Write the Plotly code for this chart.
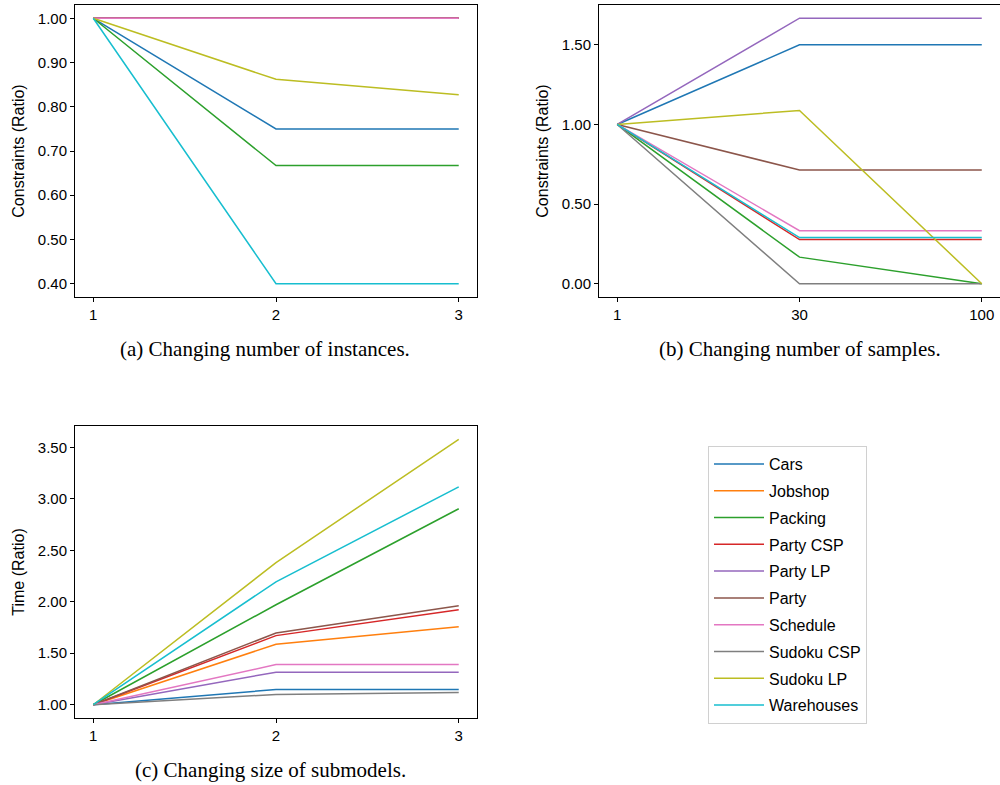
import plotly.graph_objects as go

names = ["Cars", "Jobshop", "Packing", "Party CSP", "Party LP", "Party",
         "Schedule", "Sudoku CSP", "Sudoku LP", "Warehouses"]
colors = ["#1f77b4", "#ff7f0e", "#2ca02c", "#d62728", "#9467bd", "#8c564b",
          "#e377c2", "#7f7f7f", "#bcbd22", "#17becf"]

# (a) Changing number of instances
a_x = [1, 2, 3]
a_vals = {
    "Cars": [1.0, 0.75, 0.75],
    "Jobshop": [1.0, 1.0, 1.0],
    "Packing": [1.0, 0.667, 0.667],
    "Party CSP": [1.0, 1.0, 1.0],
    "Party LP": [1.0, 1.0, 1.0],
    "Party": [1.0, 1.0, 1.0],
    "Schedule": [1.0, 1.0, 1.0],
    "Sudoku CSP": None,
    "Sudoku LP": [1.0, 0.862, 0.827],
    "Warehouses": [1.0, 0.4, 0.4],
}

# (b) Changing number of samples
b_labels = ["1", "30", "100"]
b_vals = {
    "Cars": [1.0, 1.5, 1.5],
    "Jobshop": None,
    "Packing": [1.0, 0.167, 0.0],
    "Party CSP": [1.0, 0.277, 0.277],
    "Party LP": [1.0, 1.667, 1.667],
    "Party": [1.0, 0.714, 0.714],
    "Schedule": [1.0, 0.333, 0.333],
    "Sudoku CSP": [1.0, 0.0, 0.0],
    "Sudoku LP": [1.0, 1.088, 0.0],
    "Warehouses": [1.0, 0.29, 0.29],
}

# (c) Changing size of submodels
c_x = [1, 2, 3]
c_vals = {
    "Cars": [1.0, 1.148, 1.148],
    "Jobshop": [1.0, 1.587, 1.758],
    "Packing": [1.0, 1.971, 2.903],
    "Party CSP": [1.0, 1.671, 1.922],
    "Party LP": [1.0, 1.316, 1.316],
    "Party": [1.0, 1.697, 1.961],
    "Schedule": [1.0, 1.39, 1.39],
    "Sudoku CSP": [1.0, 1.10, 1.119],
    "Sudoku LP": [1.0, 2.38, 3.578],
    "Warehouses": [1.0, 2.194, 3.116],
}

W, H = 1000, 785
def px(x0, x1):
    return [x0 / W, x1 / W]
def py(top, bottom):
    return [(H - bottom) / H, (H - top) / H]

fig = go.Figure()
lw = 1.5
for n, c in zip(names, colors):
    if a_vals[n] is not None:
        fig.add_trace(go.Scatter(x=a_x, y=a_vals[n], mode="lines", line=dict(color=c, width=lw),
                                 xaxis="x", yaxis="y", showlegend=False, name=n))
for n, c in zip(names, colors):
    if b_vals[n] is not None:
        fig.add_trace(go.Scatter(x=list(range(len(b_labels))), y=b_vals[n], mode="lines",
                                 line=dict(color=c, width=lw),
                                 xaxis="x2", yaxis="y2", showlegend=False, name=n))
for n, c in zip(names, colors):
    fig.add_trace(go.Scatter(x=c_x, y=c_vals[n], mode="lines", line=dict(color=c, width=lw),
                             xaxis="x3", yaxis="y3", showlegend=True, name=n, legendgroup=n))

tickfont = dict(family="Liberation Sans", size=15, color="black")
titlefont = dict(family="Liberation Sans", size=16, color="black")
axcommon = dict(showgrid=False, zeroline=False, showline=True, linecolor="black", linewidth=1,
                mirror=True, ticks="outside", ticklen=4, tickcolor="black", tickfont=tickfont)

fig.update_layout(
    width=W, height=H, margin=dict(l=0, r=0, t=0, b=0),
    plot_bgcolor="white", paper_bgcolor="white",
    xaxis=dict(domain=px(75, 477), range=[0.9, 3.1], tickvals=[1, 2, 3], anchor="y", **axcommon),
    yaxis=dict(domain=py(5, 297), range=[0.37, 1.03], tickvals=[0.4, 0.5, 0.6, 0.7, 0.8, 0.9, 1.0],
               tickformat=".2f", anchor="x",
               title=dict(text="Constraints (Ratio)", font=titlefont, standoff=9), **axcommon),
    xaxis2=dict(domain=px(599, 1000), range=[-0.1, 2.1], tickvals=[0, 1, 2], ticktext=b_labels,
                anchor="y2", **axcommon),
    yaxis2=dict(domain=py(5, 297), range=[-0.0833, 1.75], tickvals=[0, 0.5, 1.0, 1.5],
                tickformat=".2f", anchor="x2",
                title=dict(text="Constraints (Ratio)", font=titlefont, standoff=9), **axcommon),
    xaxis3=dict(domain=px(75, 477), range=[0.9, 3.1], tickvals=[1, 2, 3], anchor="y3", **axcommon),
    yaxis3=dict(domain=py(426, 718), range=[0.871, 3.707], tickvals=[1, 1.5, 2, 2.5, 3, 3.5],
                tickformat=".2f", anchor="x3",
                title=dict(text="Time (Ratio)", font=titlefont, standoff=9), **axcommon),
    legend=dict(x=708 / W, y=(H - 446) / H, xanchor="left", yanchor="top",
                font=dict(family="Liberation Sans", size=16, color="black"),
                bordercolor="#d0d0d0", borderwidth=1, bgcolor="white",
                tracegroupgap=3, itemwidth=50, entrywidth=105, entrywidthmode="pixels"),
)

capfont = dict(family="Liberation Serif", size=21, color="black")
caps = [("(a) Changing number of instances.", 265, 349),
        ("(b) Changing number of samples.", 800, 349),
        ("(c) Changing size of submodels.", 270, 770)]
for t, x, y in caps:
    fig.add_annotation(text=t, x=x / W, y=(H - y) / H, xref="paper", yref="paper",
                       showarrow=False, xanchor="center", yanchor="middle", font=capfont)

fig.write_html("out.html", config={"displayModeBar": False},
               post_script="document.body.style.margin='0';")
